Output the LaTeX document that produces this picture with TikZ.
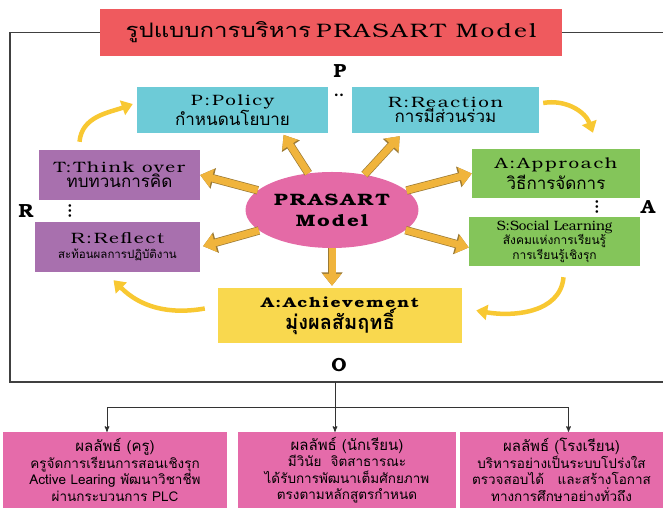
\documentclass[tikz,border=0pt]{standalone}
\usepackage{fontspec}
\setmainfont{TeX Gyre Bonum}[FakeStretch=1.25,LetterSpace=12]
\newfontfamily\plain{TeX Gyre Bonum}
\newfontfamily\thai[Script=Thai]{Loma}
\newfontfamily\thaiwide[Script=Thai,FakeStretch=1.2]{Loma}
\usetikzlibrary{arrows,arrows.meta,shapes.geometric}

\definecolor{titlered}{HTML}{EF5A5E}
\definecolor{polcyan}{HTML}{6DCBD7}
\definecolor{rflpurple}{HTML}{A870AE}
\definecolor{appgreen}{HTML}{84C55A}
\definecolor{pmpink}{HTML}{E46AA6}
\definecolor{achyellow}{HTML}{F9D84E}
\definecolor{outpink}{HTML}{E56BAA}
\definecolor{spokefill}{HTML}{F0B43C}
\definecolor{spokeline}{HTML}{9B7A35}
\definecolor{bowyellow}{HTML}{F8C832}

\begin{document}
\begin{tikzpicture}[x=1pt,y=1pt,>=stealth',node distance=213pt,
    box/.style={rectangle,align=center,inner sep=2pt},
    letter/.style={font=\plain\bfseries\fontsize{19}{19}\selectfont,inner sep=0pt},
    dots/.style={font=\plain\bfseries\fontsize{15}{15}\selectfont,inner sep=0pt},
    spoke/.style={line width=7pt,draw=spokefill,-{Triangle[length=12pt,width=18pt]},
      preaction={draw=spokeline,line width=8.4pt,-{Triangle[length=13.5pt,width=20.5pt]}}},
    bow/.style={line width=4.5pt,draw=bowyellow,-{Triangle[length=11pt,width=15pt]}},
    frame/.style={draw=black!75,line width=1.4pt},
    link/.style={->,draw=black!80,line width=1pt}]

  \useasboundingbox (0,0) rectangle (663,508);

  \node[box,fill=titlered,minimum width=462pt,minimum height=47pt] (ttl) at (331,475.5)
        {{\thaiwide\fontsize{20}{22}\selectfont รูปแบบการบริหาร} {\fontsize{19.5}{20}\selectfont PRASART Model}};

  \node[box,fill=polcyan,minimum width=191pt,minimum height=46pt] (pol) at (232.5,398)
        {{\fontsize{15}{17}\selectfont P:Policy}\\{\thai\fontsize{17}{19}\selectfont กำหนดนโยบาย}};
  \node[box,fill=polcyan,minimum width=187pt,minimum height=46pt] (rea) [right of=pol]
        {{\fontsize{15}{17}\selectfont R:Reaction}\\{\thai\fontsize{17}{19}\selectfont การมีส่วนร่วม}};
  \node[box,fill=rflpurple,minimum width=161pt,minimum height=50pt] (thk) at (119.5,333)
        {{\fontsize{15}{17}\selectfont T:Think over}\\{\thai\fontsize{17}{19}\selectfont ทบทวนการคิด}};
  \node[box,fill=rflpurple,minimum width=165pt,minimum height=50pt] (rfl) at (117.5,261)
        {{\fontsize{15}{17}\selectfont R:Reflect}\\[3pt]{\thai\fontsize{11.5}{14}\selectfont สะท้อนผลการปฏิบัติงาน}};
  \node[box,fill=appgreen,minimum width=168pt,minimum height=49pt] (app) at (556,334.5)
        {{\fontsize{15}{17}\selectfont A:Approach}\\[2pt]{\thai\fontsize{17}{19}\selectfont วิธีการจัดการ}};
  \node[box,fill=appgreen,minimum width=171pt,minimum height=49pt] (soc) at (554.5,266.5)
        {{\plain\fontsize{13.5}{14}\selectfont S:Social Learning}\\{\thai\fontsize{12}{13.5}\selectfont สังคมแห่งการเรียนรู้}\\{\thai\fontsize{12}{13.5}\selectfont การเรียนรู้เชิงรุก}};

  \node[ellipse,fill=pmpink,minimum width=156pt,minimum height=76pt,align=center,
        font=\bfseries\fontsize{16.5}{21}\selectfont] (pm) at (332,298) {PRASART\\Model};

  \node[box,fill=achyellow,minimum width=244pt,minimum height=55pt] (ach) at (340,192.5)
        {{\bfseries\fontsize{14}{16}\selectfont A:Achievement}\\{\thai\bfseries\fontsize{20}{21}\selectfont มุ่งผลสัมฤทธิ์}};

  \node[letter] (lp) at (340,437) {P};
  \node[letter] (lr) at (26,297) {R};
  \node[letter] (la) at (648,301) {A};
  \node[letter] (lo) at (339,143) {O};
  \node[dots] (dp) at (339,413) {..};
  \node[dots,rotate=90] (dr) at (70,297) {...};
  \node[dots,rotate=90] (da) at (597,301) {...};

  \path (pm) edge[spoke,shorten >=2pt] ([xshift=50pt]pol.south)
        (pm) edge[spoke,shorten >=4pt] ([xshift=-43pt]rea.south)
        (pm) edge[spoke] (app.west)
        (pm) edge[spoke] ([yshift=-6pt]soc.west)
        (pm) edge[spoke] (thk.east)
        (pm) edge[spoke,shorten >=3pt] (rfl.east)
        (pm) edge[spoke,shorten >=2pt] (pm.south |- ach.north);

  \draw[bow] ([xshift=-40pt,yshift=8pt]thk.north) to[out=85,in=200] ([xshift=-4pt,yshift=6pt]pol.west);
  \draw[bow] ([xshift=4pt,yshift=7pt]rea.east) to[out=10,in=110] ([xshift=37pt,yshift=16pt]app.north);
  \draw[bow] ([xshift=9pt,yshift=-11pt]soc.south) to[out=-95,in=-10] ([xshift=14pt,yshift=5pt]ach.east);
  \draw[bow] ([xshift=-13pt,yshift=7pt]ach.west) to[out=190,in=-45] ([xshift=-4pt,yshift=-8pt]rfl.south);

  \draw[frame] (ttl.west) -| (10,126) -- (663,126);
  \draw[frame] (ttl.east) -- (663,475.5);

  \node[box,fill=outpink,minimum width=224pt,minimum height=76pt,
        font=\thai\fontsize{13.5}{16.5}\selectfont] (lft) at (115,38)
        {{\fontsize{15}{17}\selectfont ผลลัพธ์ (ครู)}\\ครูจัดการเรียนการสอนเชิงรุก\\Active Learing พัฒนาวิชาชีพ\\ผ่านกระบวนการ PLC};
  \node[box,fill=outpink,minimum width=218pt,minimum height=76pt,
        font=\thai\fontsize{13.5}{16.5}\selectfont] (mid) at (347,38)
        {{\fontsize{15}{17}\selectfont ผลลัพธ์ (นักเรียน)}\\มีวินัย~~จิตสาธารณะ\\ได้รับการพัฒนาเต็มศักยภาพ\\ตรงตามหลักสูตรกำหนด};
  \node[box,fill=outpink,minimum width=203pt,minimum height=76pt,
        font=\thai\fontsize{13.5}{16.5}\selectfont] (rgt) at (561.5,38)
        {{\fontsize{15}{17}\selectfont ผลลัพธ์ (โรงเรียน)}\\บริหารอย่างเป็นระบบโปร่งใส\\ตรวจสอบได้~~~และสร้างโอกาส\\ทางการศึกษาอย่างทั่วถึง};

  \coordinate (fb) at (335,126);
  \coordinate (bar) at (335,100);
  \draw[link] (fb) -- (mid.north -| fb);
  \draw[link] (bar) -| ([xshift=-8pt]lft.north);
  \draw[link] (bar) -| ([xshift=7pt]rgt.north);

\end{tikzpicture}
\end{document}
